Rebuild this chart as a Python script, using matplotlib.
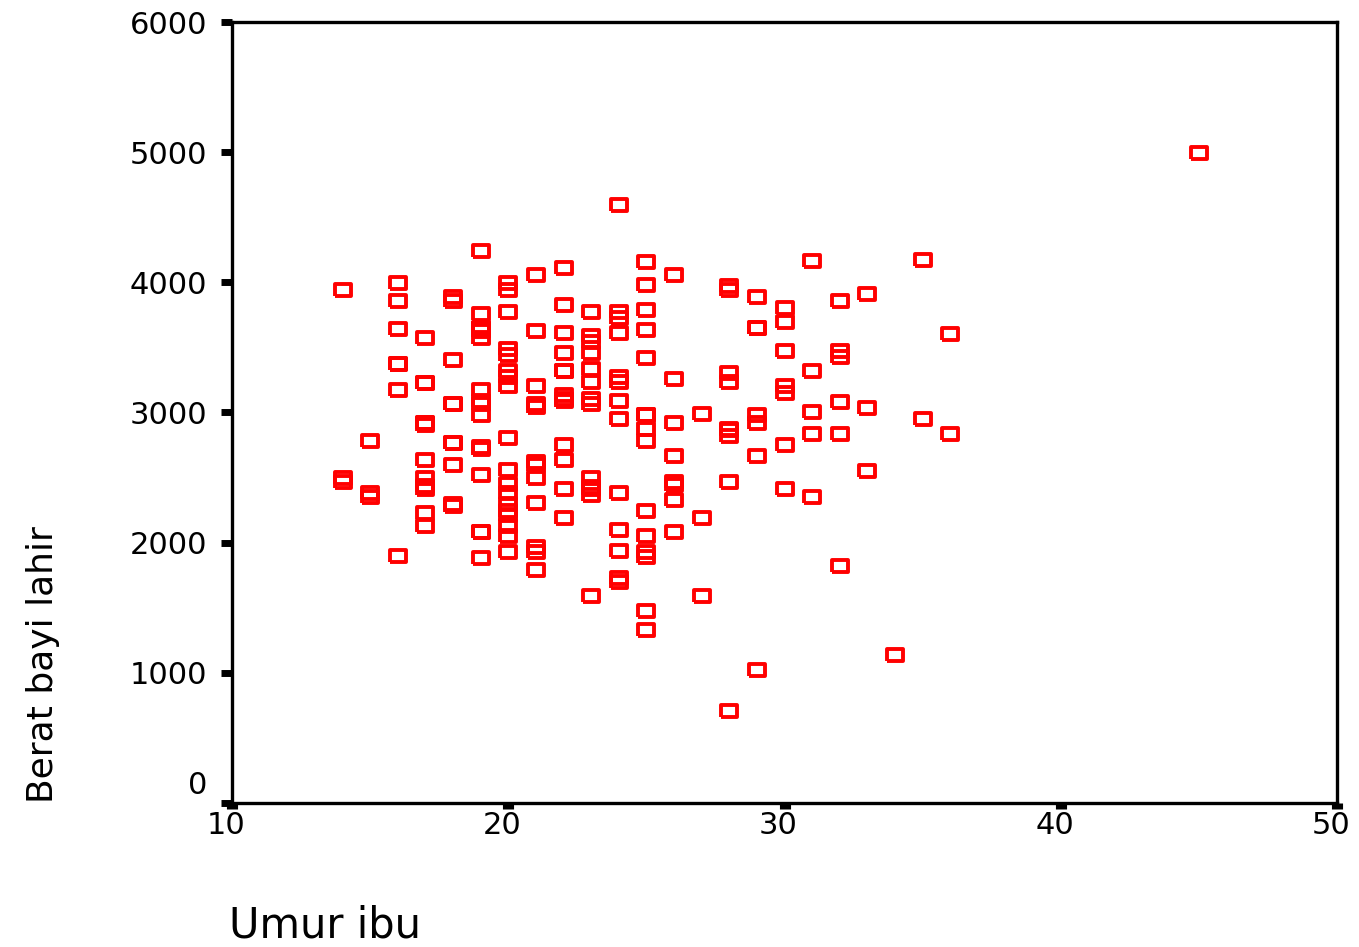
import matplotlib as mpl
import matplotlib.pyplot as plt
from matplotlib.transforms import ScaledTranslation

mpl.rcParams['font.family'] = ['DejaVu Sans']

# umur ibu (tahun) dan berat bayi lahir (gram)
umur_ibu = [19, 33, 20, 21, 18, 21, 22, 17, 29, 26,
            19, 19, 22, 30, 18, 18, 15, 25, 20, 28,
            32, 31, 36, 28, 25, 28, 17, 29, 26, 17,
            17, 24, 35, 25, 25, 29, 19, 27, 31, 33,
            21, 19, 23, 21, 18, 18, 32, 19, 24, 22,
            22, 23, 22, 30, 19, 16, 21, 30, 20, 17,
            17, 23, 24, 28, 26, 20, 24, 28, 20, 22,
            22, 31, 23, 16, 16, 18, 25, 32, 20, 23,
            22, 32, 30, 20, 23, 17, 19, 23, 36, 22,
            24, 21, 19, 25, 16, 29, 29, 19, 19, 30,
            24, 19, 24, 23, 20, 25, 30, 22, 18, 16,
            32, 18, 29, 33, 20, 28, 14, 28, 25, 16,
            20, 26, 21, 22, 25, 31, 35, 19, 24, 45,
            28, 29, 34, 25, 25, 27, 23, 24, 24, 21,
            32, 19, 25, 16, 25, 20, 21, 24, 21, 20,
            25, 19, 19, 26, 24, 17, 20, 22, 27, 20,
            17, 25, 20, 18, 18, 20, 21, 26, 31, 15,
            23, 20, 24, 15, 23, 30, 22, 17, 23, 17,
            26, 20, 26, 14, 28, 14, 23, 17, 21]

berat_bayi = [2523, 2551, 2557, 2594, 2600, 2622, 2637, 2637, 2663, 2665,
              2722, 2733, 2751, 2750, 2769, 2769, 2778, 2782, 2807, 2821,
              2835, 2835, 2836, 2863, 2877, 2877, 2906, 2920, 2920, 2920,
              2920, 2948, 2948, 2977, 2977, 2977, 2977, 2992, 3005, 3033,
              3042, 3062, 3062, 3062, 3062, 3062, 3080, 3090, 3090, 3090,
              3100, 3104, 3132, 3147, 3175, 3175, 3203, 3203, 3203, 3225,
              3225, 3232, 3232, 3234, 3260, 3274, 3274, 3303, 3317, 3317,
              3317, 3321, 3331, 3374, 3374, 3402, 3416, 3430, 3444, 3459,
              3460, 3473, 3475, 3487, 3544, 3572, 3572, 3586, 3600, 3614,
              3614, 3629, 3629, 3637, 3643, 3651, 3651, 3651, 3651, 3699,
              3728, 3756, 3770, 3770, 3770, 3790, 3799, 3827, 3856, 3860,
              3860, 3884, 3884, 3912, 3940, 3941, 3941, 3969, 3983, 3997,
              3997, 4054, 4054, 4111, 4153, 4167, 4174, 4238, 4593, 4990,
              709, 1021, 1135, 1330, 1474, 1588, 1588, 1701, 1729, 1790,
              1818, 1885, 1893, 1899, 1928, 1928, 1928, 1936, 1970, 2055,
              2055, 2082, 2084, 2084, 2100, 2125, 2126, 2187, 2187, 2211,
              2225, 2240, 2240, 2282, 2296, 2296, 2301, 2325, 2353, 2353,
              2367, 2381, 2381, 2381, 2410, 2410, 2410, 2414, 2424, 2438,
              2442, 2450, 2466, 2466, 2466, 2495, 2495, 2495, 2495]

x_ticks = [10, 20, 30, 40, 50]
y_ticks = [0, 1000, 2000, 3000, 4000, 5000, 6000]

fig = plt.figure(figsize=(13.59, 9.47), dpi=100, facecolor='w')
ax = fig.add_axes([232 / 1359, 1 - 803 / 947, 1105 / 1359, 781 / 947])

# kotak kosong (agak lebar, seperti output SPSS)
kotak = [(-1, -0.7), (1, -0.7), (1, 0.7), (-1, 0.7), (-1, -0.7)]
ax.plot(umur_ibu, berat_bayi, linestyle='none', marker=kotak, markersize=11.6,
        markerfacecolor='none', markeredgecolor='#ff0000', markeredgewidth=2.8)

ax.set_xlim(10, 50)
ax.set_ylim(0, 6000)
ax.set_xticks(x_ticks)
ax.set_yticks(y_ticks)
ax.set_xticklabels([str(v) for v in x_ticks], fontsize=22)
ax.set_yticklabels([str(v) for v in y_ticks], fontsize=22)

for s in ax.spines.values():
    s.set_linewidth(2.4)
    s.set_color('k')

ax.tick_params(axis='y', direction='out', length=8, width=5, pad=10, colors='k')
ax.tick_params(axis='x', direction='out', length=4, width=8, pad=2, colors='k')

# label "0" digeser ke atas, label sumbu x sedikit ke kiri
lbl0 = ax.get_yticklabels()[0]
lbl0.set_transform(lbl0.get_transform() + ScaledTranslation(0, 0.21, fig.dpi_scale_trans))
for lbl in ax.get_xticklabels():
    lbl.set_transform(lbl.get_transform() + ScaledTranslation(-0.06, 0, fig.dpi_scale_trans))

ax.set_xlabel('Umur ibu', fontsize=30, ha='left', va='baseline')
ax.xaxis.set_label_coords(-0.003, -0.1716)
ax.set_ylabel('Berat bayi lahir', fontsize=26, rotation=90, rotation_mode='anchor',
              ha='left', va='baseline')
ax.yaxis.set_label_coords(-0.162, 0.0)

plt.savefig('out.png', dpi=100, facecolor='w')
